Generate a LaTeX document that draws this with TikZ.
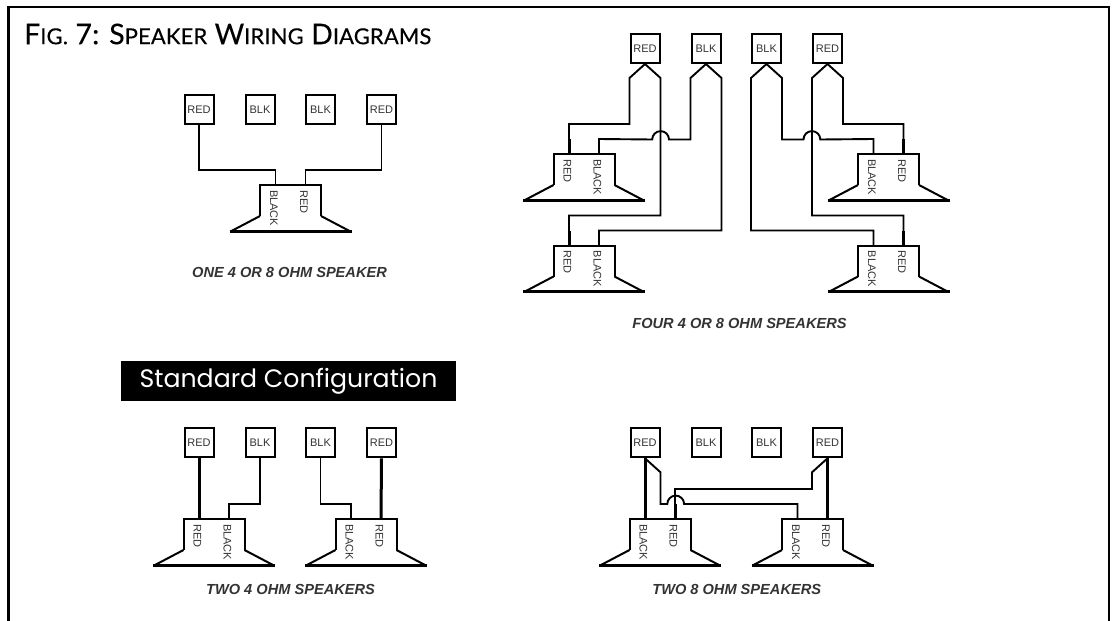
\documentclass[tikz,border=0pt]{standalone}
\usepackage{fontspec}
\setmainfont{Liberation Sans}
\newfontfamily\titlefont[FakeBold=0.3,LetterSpace=0.6]{Lato}
\newfontfamily\bannerfont{Poppins}
\usetikzlibrary{calc}
\definecolor{labelgray}{HTML}{333333}
\tikzset{
	wire/.style={line width=1.9pt,line join=miter},
	heavywire/.style={line width=3pt},
	terminal/.style={draw,line width=2pt,minimum size=29pt,inner sep=0pt,text=labelgray,font=\fontsize{11}{11}\selectfont},
	conelabel/.style={rotate=-90,anchor=west,inner sep=0pt,text=labelgray,font=\fontsize{11}{11}\selectfont},
	caption/.style={inner sep=0pt,text=labelgray,font=\fontsize{14.6}{15}\selectfont\bfseries\itshape}
}
% speaker: name, center x, top y, label under left wire, label under right wire
\newcommand{\speakerunit}[5]{
	\coordinate (#1-l) at (#2-15,#3);
	\coordinate (#1-r) at (#2+15,#3);
	\draw[line width=2pt,line join=miter] (#2-30.5,#3+31) -- (#2-30.5,#3) -- (#2+30.5,#3) -- (#2+30.5,#3+31);
	\draw[line width=2pt] (#2-30.5,#3+31) -- (#2-59,#3+46);
	\draw[line width=2pt] (#2+30.5,#3+31) -- (#2+59,#3+46);
	\draw[line width=3pt] (#2-61,#3+46) -- (#2+61,#3+46);
	\node[conelabel] (#1-a) at (#2-16.5,#3+5) {#4};
	\node[conelabel] (#1-b) at (#2+13.5,#3+5) {#5};
}
\newcommand{\caps}[2]{#1{\fontsize{22}{22}\selectfont #2}}
\begin{document}
\begin{tikzpicture}[x=1pt,y=-1pt]
	\useasboundingbox (0,0) rectangle (1112,621);
	% frame, open at the bottom
	\draw[line width=2.6pt] (8.5,621) -- (8.5,7) -- (1109,7) -- (1109,621);
	\node[anchor=west,inner sep=0pt] (title) at (24,34) {\titlefont\fontsize{28.5}{30}\selectfont\caps{F}{IG.} \caps{7: S}{PEAKER} \caps{W}{IRING} \caps{D}{IAGRAMS}};
	\node[fill=black,text=white,minimum width=335pt,minimum height=40pt,inner sep=0pt,font=\bannerfont\fontsize{25.2}{26}\selectfont] (standard) at (288.5,381) {Standard Configuration};

	% one speaker
	\foreach \name/\tx/\tlabel in {ar/199/RED,ab/260/BLK,cb/320.5/BLK,dr/381.5/RED} {
		\node[terminal] (one\name) at (\tx,109.5) {\tlabel};
	}
	\speakerunit{sone}{290.5}{185}{BLACK}{RED}
	\draw[wire] (onear.south) |- ($(sone-l)+(0,-15)$) -- (sone-l);
	\draw[wire] (onedr.south) |- ($(sone-r)+(0,-15)$) -- (sone-r);
	\node[caption] (onecap) at (289.5,272.5) {ONE 4 OR 8 OHM SPEAKER};

	% four speakers
	\foreach \name/\tx/\tlabel in {ar/645/RED,ab/706/BLK,cb/766.5/BLK,dr/827.5/RED} {
		\node[terminal] (four\name) at (\tx,48.5) {\tlabel};
	}
	\speakerunit{sfa}{584}{154}{RED}{BLACK}
	\speakerunit{sfb}{584}{245.5}{RED}{BLACK}
	\speakerunit{sfc}{888.5}{154}{BLACK}{RED}
	\speakerunit{sfd}{888.5}{245.5}{BLACK}{RED}
	\draw[wire] (fourar.south) -- ++(-15.5,14) |- ($(sfa-l)+(0,-30)$) -- (sfa-l);
	\draw[wire] (fourar.south) -- ++(15.5,14) |- ($(sfb-l)+(0,-30)$) -- (sfb-l);
	\draw[wire] (fourab.south) -- ++(15.5,14) |- ($(sfb-r)+(0,-15)$) -- (sfb-r);
	\draw[wire] (fourab.south) -- ++(-15.5,14) |- (669,139.5) arc[start angle=0,end angle=180,radius=8.4pt] -- ($(sfa-r)+(0,-15)$) -- (sfa-r);
	\draw[wire] (fourcb.south) -- ++(-15.5,14) |- ($(sfd-l)+(0,-15)$) -- (sfd-l);
	\draw[wire] (fourcb.south) -- ++(15.5,14) |- (803.5,139.5) arc[start angle=180,end angle=0,radius=8.4pt] -- ($(sfc-l)+(0,-15)$) -- (sfc-l);
	\draw[wire] (fourdr.south) -- ++(-15.5,14) |- ($(sfd-r)+(0,-30)$) -- (sfd-r);
	\draw[wire] (fourdr.south) -- ++(15.5,14) |- ($(sfc-r)+(0,-30)$) -- (sfc-r);
	\foreach \spk in {sfa-l,sfb-l,sfc-r,sfd-r} {
		\draw[heavywire] (\spk) -- ++(0,-15);
	}
	\node[caption] (fourcap) at (739.5,323.5) {FOUR 4 OR 8 OHM SPEAKERS};

	% two 4 ohm speakers
	\foreach \name/\tx/\tlabel in {ar/199/RED,ab/260/BLK,cb/320.5/BLK,dr/381.5/RED} {
		\node[terminal] (tf\name) at (\tx,442.8) {\tlabel};
	}
	\speakerunit{sta}{214}{519}{RED}{BLACK}
	\speakerunit{stb}{366}{519}{BLACK}{RED}
	\draw[heavywire] (tfar.south) -- (sta-l);
	\draw[wire] (tfab.south) |- ($(sta-r)+(0,-15)$) -- (sta-r);
	\draw[wire] (tfcb.south) |- ($(stb-l)+(0,-15)$) -- (stb-l);
	\draw[heavywire] (tfdr.south) -- (stb-r);
	\node[caption] (tfcap) at (290.5,589) {TWO 4 OHM SPEAKERS};

	% two 8 ohm speakers
	\foreach \name/\tx/\tlabel in {ar/645/RED,ab/706/BLK,cb/766.5/BLK,dr/827.5/RED} {
		\node[terminal] (te\name) at (\tx,442.8) {\tlabel};
	}
	\speakerunit{sea}{660}{519}{BLACK}{RED}
	\speakerunit{seb}{812.5}{519}{BLACK}{RED}
	\draw[heavywire] (tear.south) -- (sea-l);
	\draw[heavywire] (tedr.south) -- (seb-r);
	\draw[wire] (tear.south) -- ++(15.5,14) |- (667.3,504) arc[start angle=180,end angle=0,radius=8.4pt] -| (seb-l);
	\draw[wire] (tedr.south) -- ++(-15.5,14) |- ($(sea-r)+(0,-30)$) -- (sea-r);
	\draw[heavywire] (sea-r) -- ++(0,-15);
	\node[caption] (tecap) at (736.7,589) {TWO 8 OHM SPEAKERS};
\end{tikzpicture}
\end{document}
